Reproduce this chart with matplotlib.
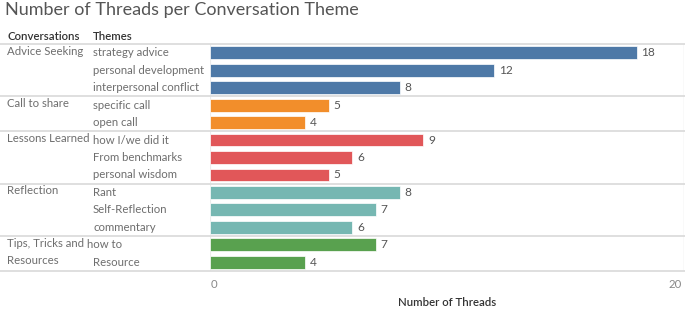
import matplotlib
matplotlib.use("Agg")
import matplotlib.pyplot as plt
from matplotlib import transforms
from matplotlib.lines import Line2D

plt.rcParams['font.family'] = ['Lato', 'DejaVu Sans']

conversations = ["Advice Seeking", "Call to share", "Lessons Learned", "Reflection", "Tips, Tricks and\nResources"]
themes = [
    ["strategy advice", "personal development", "interpersonal conflict"],
    ["specific call", "open call"],
    ["how I/we did it", "From benchmarks", "personal wisdom"],
    ["Rant", "Self-Reflection", "commentary"],
    ["how to", "Resource"],
]
values = [
    [18, 12, 8],
    [5, 4],
    [9, 6, 5],
    [8, 7, 6],
    [7, 4],
]
colors = ["#4e79a7", "#f28e2b", "#e15759", "#76b7b2", "#59a14f"]
x_ticks = [0, 20]

W, H = 685, 309
fig = plt.figure(figsize=(W / 100, H / 100), dpi=100)
ax = fig.add_axes([210 / W, (H - 271) / H, (684 - 210) / W, (271 - 44) / H])

n_rows = sum(len(t) for t in themes)
ax.set_xlim(0, 20)
ax.set_ylim(n_rows - 0.5, -0.5)
for s in ax.spines.values():
    s.set_visible(False)
ax.set_xticks([])
ax.set_yticks([])

blend = transforms.blended_transform_factory(fig.transFigure, ax.transData)
line_color = "#dcdcdc"
label_color = "#6e6e6e"
fs = 8.2

fig.add_artist(Line2D([0, 1], [-0.5, -0.5], transform=blend, color=line_color, lw=1.3))
ax.axvline(0, color="#ececec", lw=0.8, zorder=0)
ax.axvline(20, color="#e4e4e4", lw=1.0, zorder=0)

row = 0
for gi, (conv, ths, vals) in enumerate(zip(conversations, themes, values)):
    start = row
    for th, v in zip(ths, vals):
        ax.barh(row, v, height=0.74, color=colors[gi], edgecolor="white", linewidth=0.5)
        ax.annotate(str(v), (v, row), xytext=(3.5, 0), textcoords="offset points",
                    va="center", ha="left", fontsize=8.6, color="#555555")
        tx = 87 / W if (gi == 4 and th == "how to") else 93 / W
        t = fig.text(tx, 0, th, transform=blend, fontsize=fs, color=label_color,
                     va="center", ha="left")
        t.set_y(row)
        row += 1
    t = fig.text(7 / W, 0, conv, transform=blend, fontsize=fs, color=label_color,
                 va="top", ha="left", linespacing=1.65)
    t.set_y(start - 0.4)
    fig.add_artist(Line2D([0, 1], [row - 0.5, row - 0.5], transform=blend,
                          color=line_color, lw=1.3))

fig.text(7 / W, 1 - 37 / H, "Conversations", fontsize=fs, color="#333333",
         fontweight="semibold", va="center", ha="left")
fig.text(93 / W, 1 - 37 / H, "Themes", fontsize=fs, color="#333333",
         fontweight="semibold", va="center", ha="left")

fig.text(5 / W, 1 - 10 / H, "Number of Threads per Conversation Theme", fontsize=13,
         color="#555555", va="center", ha="left")

for xv in x_ticks:
    ha = "left" if xv == x_ticks[0] else "right"
    off = 1 if ha == "left" else -2
    fig.text(ax.transData.transform((xv, 0))[0] / W + off / W, 1 - 284 / H, str(xv),
             fontsize=fs, color="#888888", va="center", ha=ha)

fig.text(447 / W, 1 - 303 / H, "Number of Threads", fontsize=fs, color="#333333",
         fontweight="semibold", va="center", ha="center")

fig.savefig("out.png", dpi=100)
